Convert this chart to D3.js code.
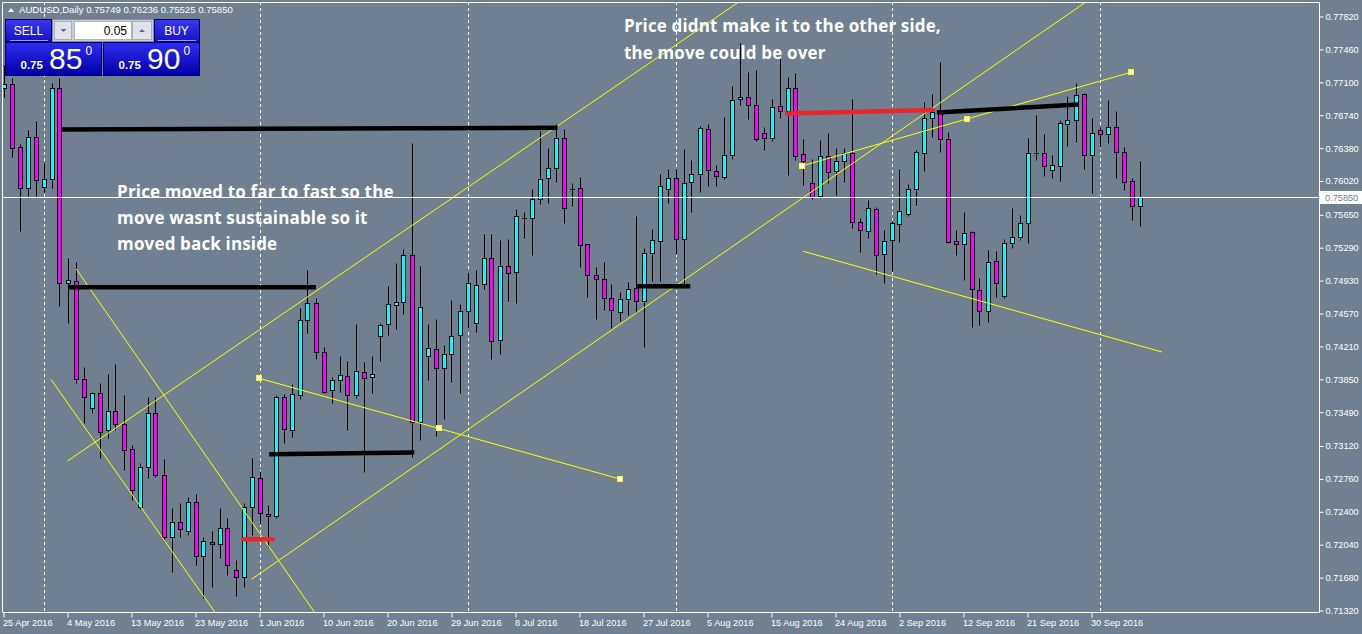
<!DOCTYPE html>
<html><head><meta charset="utf-8">
<script src="https://cdn.jsdelivr.net/npm/d3@7"></script>
<style>
html,body{margin:0;padding:0;background:#708090;overflow:hidden}
svg{display:block}
</style></head><body>
<svg id="c" width="1362" height="634"></svg>
<script>
// ---------- DATA ----------
const dates = [
"2016-04-25","2016-04-26","2016-04-27","2016-04-28","2016-04-29",
"2016-05-01","2016-05-02","2016-05-03","2016-05-04","2016-05-05","2016-05-06",
"2016-05-08","2016-05-09","2016-05-10","2016-05-11","2016-05-12","2016-05-13",
"2016-05-15","2016-05-16","2016-05-17","2016-05-18","2016-05-19","2016-05-20",
"2016-05-22","2016-05-23","2016-05-24","2016-05-25","2016-05-26","2016-05-27",
"2016-05-29","2016-05-30","2016-05-31","2016-06-01","2016-06-02","2016-06-03",
"2016-06-05","2016-06-06","2016-06-07","2016-06-08","2016-06-09","2016-06-10",
"2016-06-12","2016-06-13","2016-06-14","2016-06-15","2016-06-16","2016-06-17",
"2016-06-19","2016-06-20","2016-06-21","2016-06-22","2016-06-23","2016-06-24",
"2016-06-26","2016-06-27","2016-06-28","2016-06-29","2016-06-30","2016-07-01",
"2016-07-03","2016-07-04","2016-07-05","2016-07-06","2016-07-07","2016-07-08",
"2016-07-10","2016-07-11","2016-07-12","2016-07-13","2016-07-14","2016-07-15",
"2016-07-17","2016-07-18","2016-07-19","2016-07-20","2016-07-21","2016-07-22",
"2016-07-24","2016-07-25","2016-07-26","2016-07-27","2016-07-28","2016-07-29",
"2016-07-31","2016-08-01","2016-08-02","2016-08-03","2016-08-04","2016-08-05",
"2016-08-07","2016-08-08","2016-08-09","2016-08-10","2016-08-11","2016-08-12",
"2016-08-14","2016-08-15","2016-08-16","2016-08-17","2016-08-18","2016-08-19",
"2016-08-21","2016-08-22","2016-08-23","2016-08-24","2016-08-25","2016-08-26",
"2016-08-28","2016-08-29","2016-08-30","2016-08-31","2016-09-01","2016-09-02",
"2016-09-04","2016-09-05","2016-09-06","2016-09-07","2016-09-08","2016-09-09",
"2016-09-11","2016-09-12","2016-09-13","2016-09-14","2016-09-15","2016-09-16",
"2016-09-18","2016-09-19","2016-09-20","2016-09-21","2016-09-22","2016-09-23",
"2016-09-25","2016-09-26","2016-09-27","2016-09-28","2016-09-29","2016-09-30",
"2016-10-02","2016-10-03","2016-10-04","2016-10-05","2016-10-06","2016-10-07"
];

const open = [
0.77035,0.77082,0.76389,0.75947,0.76498,0.75951,0.76042,0.77035,0.74904,0.74929,
0.73850,0.73533,0.73697,0.73292,0.73503,0.73358,0.73084,0.72450,0.72894,0.73478,
0.72800,0.72121,0.72285,0.72187,0.72504,0.71920,0.72067,0.72045,0.72220,0.71760,
0.71684,0.72450,0.72767,0.72376,0.72354,0.73653,0.73296,0.73678,0.74499,0.74682,
0.74146,0.73730,0.73840,0.73883,0.73675,0.73927,0.73872,0.74321,0.74452,0.74660,
0.74693,0.75207,0.73380,0.74109,0.74178,0.73971,0.74124,0.74332,0.74594,0.74463,
0.74890,0.75174,0.74277,0.75087,0.75021,0.75619,0.75612,0.75820,0.76050,0.76159,
0.76488,0.75936,0.75940,0.75328,0.74988,0.74945,0.74737,0.74584,0.74726,0.74846,
0.74704,0.75229,0.75360,0.75930,0.76050,0.75382,0.76006,0.76093,0.76586,0.76126,
0.76061,0.76302,0.76914,0.76936,0.76849,0.76542,0.76488,0.76838,0.76783,0.77035,
0.76313,0.75995,0.75861,0.76291,0.76126,0.76236,0.76323,0.75568,0.75470,0.75711,
0.75218,0.75371,0.75546,0.75656,0.75930,0.76323,0.76706,0.76761,0.76477,0.75360,
0.75328,0.75459,0.74824,0.74594,0.75142,0.74765,0.75339,0.75404,0.75557,0.76323,
0.76323,0.76137,0.76181,0.76641,0.76685,0.76972,0.76302,0.76575,0.76531,0.76608,
0.76334,0.76017,0.75749
];
const high = [
0.77290,0.77147,0.76425,0.76578,0.76677,0.76214,0.77090,0.77144,0.75178,0.75137,
0.73988,0.73715,0.73806,0.73908,0.74018,0.73678,0.73131,0.72931,0.73660,0.73660,
0.72975,0.72444,0.72500,0.72559,0.72592,0.72121,0.72193,0.72444,0.72329,0.71873,
0.72493,0.72986,0.72851,0.72472,0.73678,0.73690,0.73798,0.74627,0.75046,0.74737,
0.74200,0.73879,0.74105,0.74051,0.74456,0.74040,0.74105,0.74470,0.74871,0.75120,
0.75276,0.76436,0.75090,0.74456,0.74507,0.74222,0.74715,0.74674,0.75021,0.75043,
0.75437,0.75437,0.75371,0.75382,0.75711,0.75679,0.75930,0.76571,0.76381,0.76644,
0.76586,0.75995,0.76064,0.75331,0.75076,0.75134,0.74890,0.74803,0.74912,0.75634,
0.75284,0.75492,0.76093,0.76148,0.76148,0.76370,0.76247,0.76622,0.76641,0.76192,
0.76717,0.77060,0.77531,0.77213,0.77235,0.76608,0.76914,0.77366,0.77158,0.77202,
0.76480,0.76261,0.76469,0.76542,0.76378,0.76378,0.76914,0.75612,0.75815,0.75733,
0.75480,0.75580,0.76152,0.75987,0.76360,0.76882,0.76969,0.77323,0.76553,0.75481,
0.75678,0.75470,0.74956,0.75262,0.75251,0.75386,0.75725,0.75648,0.76491,0.76743,
0.76535,0.76302,0.76688,0.76951,0.77093,0.76984,0.76706,0.76608,0.76907,0.76786,
0.76389,0.76050,0.76236
];
const low = [
0.76940,0.76286,0.75477,0.75856,0.75856,0.75903,0.75940,0.74656,0.74466,0.73813,
0.73375,0.73485,0.72992,0.73205,0.73296,0.72858,0.72530,0.72431,0.72774,0.72781,
0.72084,0.71745,0.72121,0.72150,0.71818,0.71454,0.71581,0.71891,0.71709,0.71482,
0.71574,0.72146,0.72264,0.72012,0.72329,0.73150,0.73222,0.73631,0.74357,0.74069,
0.73697,0.73588,0.73715,0.73296,0.73642,0.72839,0.73704,0.74054,0.74338,0.74404,
0.74568,0.73003,0.73186,0.73843,0.73233,0.73416,0.73824,0.73704,0.74412,0.74371,
0.74842,0.74076,0.74130,0.74707,0.74687,0.75400,0.75214,0.75765,0.75776,0.76013,
0.75557,0.75750,0.75083,0.74754,0.74514,0.74612,0.74415,0.74492,0.74551,0.74579,
0.74200,0.74926,0.74929,0.75783,0.75218,0.74867,0.75679,0.75903,0.75969,0.75969,
0.76042,0.76258,0.76849,0.76696,0.76455,0.76356,0.76455,0.76707,0.76083,0.76250,
0.75976,0.75823,0.75831,0.75995,0.75871,0.76013,0.75509,0.75247,0.75400,0.74999,
0.74901,0.75035,0.75356,0.75634,0.75754,0.76133,0.76498,0.76334,0.75339,0.75207,
0.74934,0.74419,0.74445,0.74474,0.74748,0.74743,0.75290,0.75371,0.75339,0.76253,
0.76078,0.76056,0.76023,0.76403,0.76444,0.76148,0.75891,0.76396,0.76439,0.76056,
0.75918,0.75597,0.75525
];
const close = [
0.77079,0.76378,0.75940,0.76498,0.76028,0.76042,0.77035,0.74901,0.74934,0.73850,
0.73653,0.73697,0.73277,0.73503,0.73365,0.73073,0.72643,0.72890,0.73478,0.72800,
0.72121,0.72285,0.72209,0.72511,0.71920,0.72081,0.72045,0.72220,0.71815,0.71684,
0.72457,0.72778,0.72384,0.72354,0.73653,0.73303,0.73686,0.74499,0.74682,0.74146,
0.73715,0.73840,0.73894,0.73675,0.73938,0.73861,0.73905,0.74441,0.74671,0.74693,
0.75207,0.73380,0.74638,0.74190,0.73971,0.74124,0.74321,0.74594,0.74901,0.74880,
0.75174,0.74266,0.75087,0.75010,0.75634,0.75619,0.75820,0.76039,0.76159,0.76488,
0.75722,0.75936,0.75317,0.74988,0.74945,0.74737,0.74606,0.74726,0.74835,0.74704,
0.75229,0.75371,0.75962,0.76050,0.75382,0.75995,0.76093,0.76597,0.76137,0.76072,
0.76302,0.76903,0.76936,0.76849,0.76477,0.76488,0.76827,0.76783,0.77035,0.76297,
0.76236,0.75849,0.76291,0.76116,0.76236,0.76323,0.75575,0.75481,0.75722,0.75207,
0.75360,0.75557,0.75689,0.75930,0.76334,0.76706,0.76772,0.76477,0.75350,0.75328,
0.75448,0.74835,0.74594,0.75131,0.74901,0.75339,0.75404,0.75557,0.76323,0.76323,
0.76181,0.76192,0.76652,0.76685,0.76958,0.76302,0.76542,0.76531,0.76608,0.76334,
0.76006,0.75743,0.75850
];

const priceTicks = [0.77820,0.77460,0.77100,0.76740,0.76380,0.76020,0.75650,0.75290,0.74930,0.74570,
                    0.74210,0.73850,0.73490,0.73120,0.72760,0.72400,0.72040,0.71680,0.71320];
const dateTicks = ["2016-04-25","2016-05-04","2016-05-13","2016-05-23","2016-06-01","2016-06-10",
                   "2016-06-20","2016-06-29","2016-07-08","2016-07-18","2016-07-27","2016-08-05",
                   "2016-08-15","2016-08-24","2016-09-02","2016-09-12","2016-09-21","2016-09-30"];
const separatorDates = ["2016-05-01","2016-06-01","2016-07-01","2016-08-01","2016-09-01","2016-10-02"];

const symbolName = "AUDUSD,Daily";
const lastOHLC = [0.75749, 0.76236, 0.75525, 0.75850];
const bidPrice = 0.75850;
const lotSize = "0.05";
const sellQuote = ["0.75", "85", "0"];
const buyQuote = ["0.75", "90", "0"];

// drawn objects: [barIndex1, price1, barIndex2, price2]
const yellowLines = [
  [8.01, 0.72956, 94.10, 0.78110],
  [31.01, 0.71662, 137.46, 0.78110],
  [99.76, 0.76184, 140.96, 0.77210],
  [9.09, 0.75057, 39.55, 0.71216],
  [5.93, 0.73850, 27.11, 0.71216],
  [31.96, 0.73861, 77.05, 0.72759],
  [99.96, 0.75251, 144.80, 0.74149]
];
const yellowAnchors = [[99.76,0.76184],[120.46,0.76695],[140.96,0.77210],
                       [31.96,0.73861],[54.46,0.73314],[77.05,0.72759]];
const blackLevels = [
  [7.30, 0.76584, 69.26, 0.76603],
  [8.05, 0.74857, 39.05, 0.74857],
  [33.20, 0.73030, 51.34, 0.73048],
  [79.21, 0.74868, 85.84, 0.74868],
  [116.67, 0.76770, 134.43, 0.76857]
];
const redLevels = [
  [97.96, 0.76759, 116.17, 0.76797],
  [29.96, 0.72099, 33.64, 0.72099]
];
const notes = [
  {i: 14.2, p: 0.75835, lines: ["Price moved to far to fast so the", "move wasnt sustainable so it", "moved back inside"]},
  {i: 77.55, p: 0.77645, lines: ["Price didnt make it to the other side,", "the move could be over"]}
];

// ---------- LAYOUT ----------
const W = 1362, H = 634;
const L = 2, R = 1319, T = 2, B = 612.5;
const svg = d3.select("#c");
const BG = "#708090";
svg.append("rect").attr("width", W).attr("height", H).attr("fill", BG);

const n = dates.length;
const x = d3.scaleLinear().domain([0, n - 1]).range([3.5, 3.5 + 8 * (n - 1)]);
const y = d3.scaleLinear().domain([0.71320, 0.77820]).range([610.5, 16.5]);
const idx = new Map(dates.map((d, i) => [d, i]));
const px = v => Math.round(x(v)) + 0.5;
const py = v => Math.round(y(v)) + 0.5;

const defs = svg.append("defs");
defs.append("clipPath").attr("id", "plot").append("rect")
  .attr("x", L).attr("y", T).attr("width", R - L).attr("height", B - T);
const gr = defs.append("linearGradient").attr("id", "blk").attr("x1", 0).attr("y1", 0).attr("x2", 0).attr("y2", 1);
gr.append("stop").attr("offset", "0%").attr("stop-color", "#2e2ef2");
gr.append("stop").attr("offset", "100%").attr("stop-color", "#0000a8");
const gr2 = defs.append("linearGradient").attr("id", "hdr").attr("x1", 0).attr("y1", 0).attr("x2", 0).attr("y2", 1);
gr2.append("stop").attr("offset", "0%").attr("stop-color", "#3838f0");
gr2.append("stop").attr("offset", "100%").attr("stop-color", "#1414c8");

const plot = svg.append("g").attr("clip-path", "url(#plot)");

// period separators
plot.selectAll("line.sep").data(separatorDates).enter().append("line")
  .attr("x1", d => px(idx.get(d))).attr("x2", d => px(idx.get(d)))
  .attr("y1", T).attr("y2", B)
  .attr("stroke", "#ffffff").attr("stroke-width", 1).attr("stroke-dasharray", "3,3");

// candles
const bars = d3.range(n).map(i => ({i, o: open[i], h: high[i], l: low[i], c: close[i]}));
const cg = plot.append("g");
cg.selectAll("line.wick").data(bars).enter().append("line")
  .attr("x1", d => px(d.i)).attr("x2", d => px(d.i))
  .attr("y1", d => py(d.h)).attr("y2", d => py(d.l))
  .attr("stroke", "#000").attr("stroke-width", 1);
bars.forEach(d => {
  const yt = py(Math.max(d.o, d.c)), yb = py(Math.min(d.o, d.c));
  const cx = px(d.i);
  if (yb - yt < 1) {
    cg.append("line").attr("x1", cx - 2.5).attr("x2", cx + 2.5).attr("y1", yt).attr("y2", yt)
      .attr("stroke", "#000").attr("stroke-width", 1);
  } else {
    cg.append("rect").attr("x", cx - 2).attr("y", yt).attr("width", 4).attr("height", yb - yt)
      .attr("fill", d.c >= d.o ? "#00ffff" : "#ff00ff")
      .attr("stroke", "#000").attr("stroke-width", 1);
  }
});

// bid line
plot.append("line").attr("x1", L).attr("x2", R).attr("y1", py(bidPrice)).attr("y2", py(bidPrice))
  .attr("stroke", "#ffffff").attr("stroke-width", 1);

// yellow trend lines
plot.selectAll("line.tl").data(yellowLines).enter().append("line")
  .attr("x1", d => x(d[0])).attr("y1", d => y(d[1])).attr("x2", d => x(d[2])).attr("y2", d => y(d[3]))
  .attr("stroke", "#ffff00").attr("stroke-width", 1);

// thick levels
plot.selectAll("line.bk").data(blackLevels).enter().append("line")
  .attr("x1", d => x(d[0])).attr("y1", d => y(d[1])).attr("x2", d => x(d[2])).attr("y2", d => y(d[3]))
  .attr("stroke", "#000").attr("stroke-width", 4.5);
plot.selectAll("line.rd").data(redLevels).enter().append("line")
  .attr("x1", d => x(d[0])).attr("y1", d => y(d[1])).attr("x2", d => x(d[2])).attr("y2", d => y(d[3]))
  .attr("stroke", "#e8262c").attr("stroke-width", 4.5).attr("stroke-linecap", "round");

// anchor markers
plot.selectAll("rect.anc").data(yellowAnchors).enter().append("rect")
  .attr("x", d => Math.round(x(d[0])) - 2.5).attr("y", d => Math.round(y(d[1])) - 2.5)
  .attr("width", 5).attr("height", 5).attr("fill", "#ffffff").attr("stroke", "#ffff00").attr("stroke-width", 1);

// notes
notes.forEach(nt => {
  const t = plot.append("text").attr("x", x(nt.i)).attr("y", y(nt.p))
    .attr("font-family", "'Open Sans', sans-serif").attr("font-weight", 700)
    .attr("font-size", 17).attr("letter-spacing", 0.15).attr("fill", "#ffffff");
  nt.lines.forEach((s, k) => t.append("tspan").attr("x", x(nt.i)).attr("dy", k === 0 ? 0 : 26.3).text(s));
});

// frame
svg.append("path").attr("d", `M${L + 0.5},${T + 0.5}H${R + 0.5}V${B}H${L + 0.5}Z`)
  .attr("fill", "none").attr("stroke", "#ffffff").attr("stroke-width", 1);

// price axis
const yAxis = d3.axisRight(y).tickValues(priceTicks).tickFormat(d3.format(".5f")).tickSize(4).tickPadding(2);
const ya = svg.append("g").attr("transform", `translate(${R + 0.5},0)`).call(yAxis);
ya.select(".domain").remove();
ya.selectAll(".tick line").attr("stroke", "#ffffff");
ya.selectAll(".tick text").attr("fill", "#ffffff").attr("font-family", "'Liberation Sans', Arial, sans-serif").attr("font-size", 9.2);

// bid label
const by = py(bidPrice);
svg.append("rect").attr("x", R + 1).attr("y", by - 6.5).attr("width", W - R - 1).attr("height", 13).attr("fill", "#ffffff");
svg.append("text").attr("x", R + 6).attr("y", by + 3.5).attr("fill", BG)
  .attr("font-family", "'Liberation Sans', Arial, sans-serif").attr("font-size", 9.2).text(d3.format(".5f")(bidPrice));

// date axis
const fmt = d3.timeFormat("%-d %b %Y"), parse = d3.timeParse("%Y-%m-%d");
const xAxis = d3.axisBottom(x).tickValues(dateTicks.map(d => idx.get(d)))
  .tickFormat(i => fmt(parse(dates[i]))).tickSize(5).tickPadding(1.5);
const xa = svg.append("g").attr("transform", `translate(0,${B})`).call(xAxis);
xa.select(".domain").remove();
xa.selectAll(".tick line").attr("stroke", "#ffffff");
xa.selectAll(".tick text").attr("fill", "#ffffff").attr("text-anchor", "start").attr("dx", -1)
  .attr("font-family", "'Liberation Sans', Arial, sans-serif").attr("font-size", 9.2);

// header
svg.append("path").attr("d", "M8,12 L11,8 L14,12 Z").attr("fill", "#ffffff");
svg.append("text").attr("x", 19).attr("y", 13).attr("fill", "#ffffff")
  .attr("font-family", "'Liberation Sans', Arial, sans-serif").attr("font-size", 9.6)
  .text(symbolName + "  " + lastOHLC.map(d3.format(".5f")).join(" "));

// one-click trading panel
const P = svg.append("g");
P.append("rect").attr("x", 5.5).attr("y", 19.5).attr("width", 46).attr("height", 22).attr("fill", "url(#hdr)").attr("stroke", "#000070");
P.append("rect").attr("x", 154.5).attr("y", 19.5).attr("width", 45).attr("height", 22).attr("fill", "url(#hdr)").attr("stroke", "#000070");
P.append("line").attr("x1", 10).attr("x2", 48).attr("y1", 40.5).attr("y2", 40.5).attr("stroke", "#9a9aff");
P.append("line").attr("x1", 158).attr("x2", 196).attr("y1", 40.5).attr("y2", 40.5).attr("stroke", "#9a9aff");
P.append("rect").attr("x", 5.5).attr("y", 42.5).attr("width", 96).attr("height", 33).attr("fill", "url(#blk)").attr("stroke", "#000070");
P.append("rect").attr("x", 103.5).attr("y", 42.5).attr("width", 96).attr("height", 33).attr("fill", "url(#blk)").attr("stroke", "#000070");
P.append("rect").attr("x", 52.5).attr("y", 19.5).attr("width", 101).attr("height", 22).attr("fill", "#c9ccd2").attr("stroke", "#8a8f99");
P.append("rect").attr("x", 54.5).attr("y", 21.5).attr("width", 17).attr("height", 18).attr("fill", "#dfe2e8").attr("stroke", "#a8adb6");
P.append("rect").attr("x", 132.5).attr("y", 21.5).attr("width", 19).attr("height", 18).attr("fill", "#dfe2e8").attr("stroke", "#a8adb6");
P.append("rect").attr("x", 74.5).attr("y", 21.5).attr("width", 57).attr("height", 18).attr("fill", "#ffffff").attr("stroke", "#b0b4bc");
P.append("path").attr("d", "M60.5,29 L66.5,29 L63.5,32 Z").attr("fill", "#5a6aa0");
P.append("path").attr("d", "M139,32 L145,32 L142,29 Z").attr("fill", "#5a6aa0");
P.append("text").attr("x", 127).attr("y", 35).attr("text-anchor", "end").attr("fill", "#000")
  .attr("font-family", "'Liberation Sans', Arial, sans-serif").attr("font-size", 12).text(lotSize);
const btnFont = "'Liberation Sans', Arial, sans-serif";
P.append("text").attr("x", 28.5).attr("y", 35).attr("text-anchor", "middle").attr("fill", "#fff")
  .attr("font-family", btnFont).attr("font-size", 12).text("SELL");
P.append("text").attr("x", 176.5).attr("y", 35).attr("text-anchor", "middle").attr("fill", "#fff")
  .attr("font-family", btnFont).attr("font-size", 12).text("BUY");
function quote(q, x0) {
  P.append("text").attr("x", x0).attr("y", 68.5).attr("fill", "#fff").attr("font-family", btnFont)
    .attr("font-weight", "bold").attr("font-size", 11.5).text(q[0]);
  P.append("text").attr("x", x0 + 28.5).attr("y", 68.5).attr("fill", "#fff").attr("font-family", btnFont)
    .attr("font-size", 30).text(q[1]);
  P.append("text").attr("x", x0 + 65).attr("y", 55).attr("fill", "#fff").attr("font-family", btnFont)
    .attr("font-size", 12).text(q[2]);
}
quote(sellQuote, 20.5);
quote(buyQuote, 118.5);
</script>
</body></html>
